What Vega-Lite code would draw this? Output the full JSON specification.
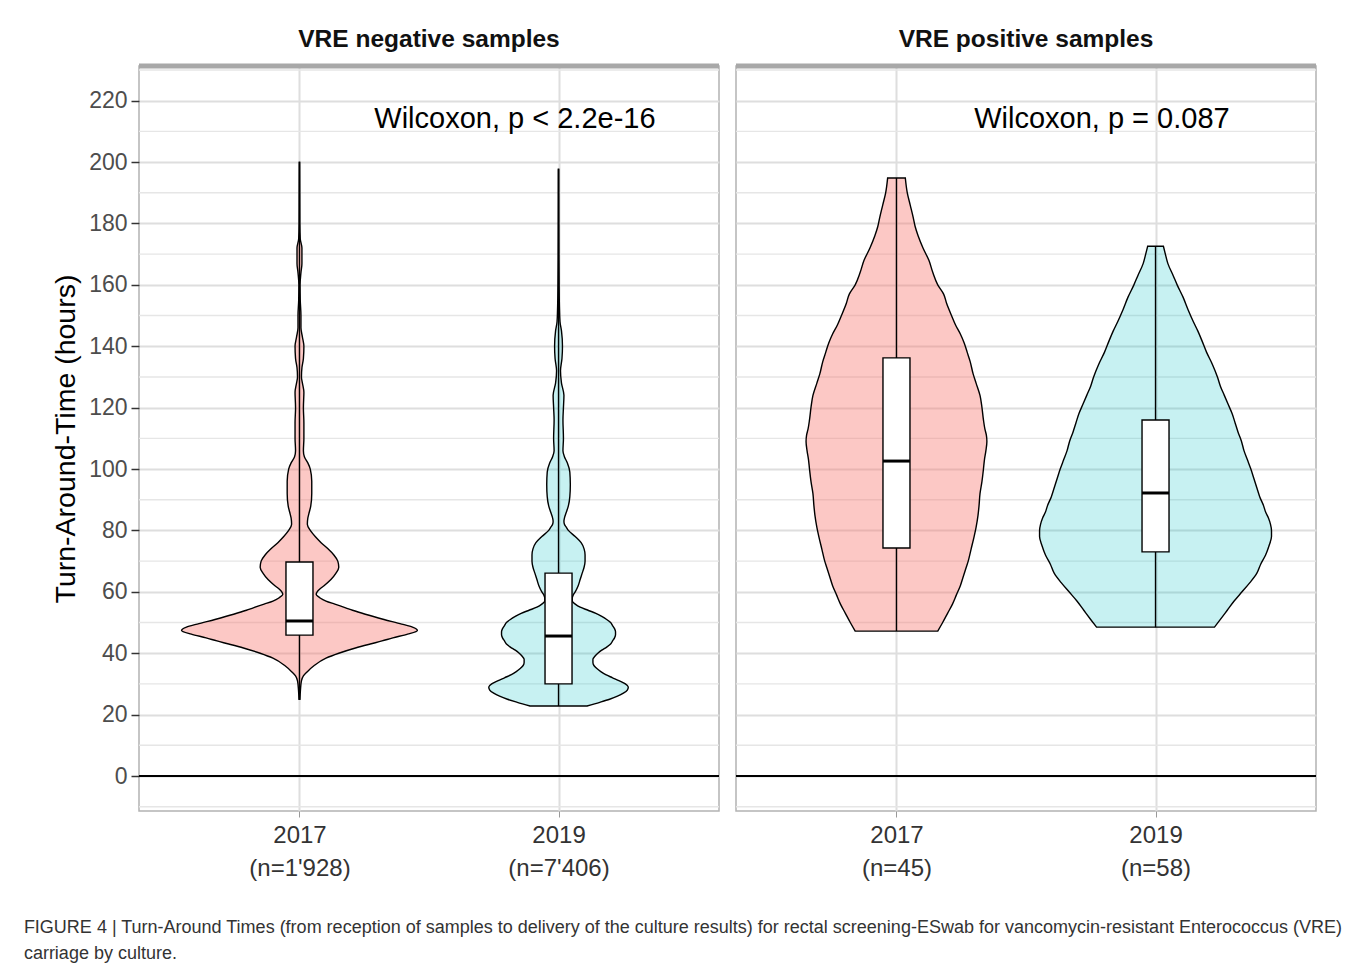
{
  "$schema": "https://vega.github.io/schema/vega-lite/v6.json",
  "padding": {"left": 23, "top": 26, "right": 5, "bottom": 5},
  "background": "#ffffff",
  "title": {
    "text": ["FIGURE 4 | Turn-Around Times (from reception of samples to delivery of the culture results) for rectal screening-ESwab for vancomycin-resistant Enterococcus (VRE)", "carriage by culture."],
    "orient": "bottom", "anchor": "start", "fontSize": 18, "fontWeight": "normal", "color": "#333333",
    "lineHeight": 26, "offset": 38, "dx": -27, "font": "Liberation Sans"
  },
  "datasets": {
    "minor": [{"v":-10},{"v":10},{"v":30},{"v":50},{"v":70},{"v":90},{"v":110},{"v":130},{"v":150},{"v":170},{"v":190},{"v":210},{"v":230}],
    "violin": [
      {"panel":"neg","year":"2017","hours":25,"w":0.005},{"panel":"neg","year":"2017","hours":28,"w":0.01},{"panel":"neg","year":"2017","hours":31,"w":0.02},{"panel":"neg","year":"2017","hours":32.6,"w":0.04},{"panel":"neg","year":"2017","hours":34,"w":0.08},{"panel":"neg","year":"2017","hours":36,"w":0.15},{"panel":"neg","year":"2017","hours":38.4,"w":0.27},{"panel":"neg","year":"2017","hours":40,"w":0.40},{"panel":"neg","year":"2017","hours":41.7,"w":0.57},{"panel":"neg","year":"2017","hours":43,"w":0.72},{"panel":"neg","year":"2017","hours":44,"w":0.84},{"panel":"neg","year":"2017","hours":45,"w":0.95},{"panel":"neg","year":"2017","hours":46.2,"w":1.10},{"panel":"neg","year":"2017","hours":47.4,"w":1.20},{"panel":"neg","year":"2017","hours":48.5,"w":1.15},{"panel":"neg","year":"2017","hours":49.5,"w":1.04},{"panel":"neg","year":"2017","hours":51,"w":0.86},{"panel":"neg","year":"2017","hours":52.7,"w":0.67},{"panel":"neg","year":"2017","hours":54,"w":0.54},{"panel":"neg","year":"2017","hours":54.8,"w":0.47},{"panel":"neg","year":"2017","hours":56,"w":0.36},{"panel":"neg","year":"2017","hours":57,"w":0.27},{"panel":"neg","year":"2017","hours":58,"w":0.21},{"panel":"neg","year":"2017","hours":59.2,"w":0.17},{"panel":"neg","year":"2017","hours":60,"w":0.18},{"panel":"neg","year":"2017","hours":61,"w":0.21},{"panel":"neg","year":"2017","hours":62,"w":0.25},{"panel":"neg","year":"2017","hours":64,"w":0.32},{"panel":"neg","year":"2017","hours":66,"w":0.37},{"panel":"neg","year":"2017","hours":68,"w":0.40},{"panel":"neg","year":"2017","hours":70,"w":0.39},{"panel":"neg","year":"2017","hours":72,"w":0.35},{"panel":"neg","year":"2017","hours":74,"w":0.29},{"panel":"neg","year":"2017","hours":76,"w":0.22},{"panel":"neg","year":"2017","hours":78,"w":0.16},{"panel":"neg","year":"2017","hours":80,"w":0.11},{"panel":"neg","year":"2017","hours":82,"w":0.08},{"panel":"neg","year":"2017","hours":84,"w":0.085},{"panel":"neg","year":"2017","hours":86,"w":0.10},{"panel":"neg","year":"2017","hours":88,"w":0.115},{"panel":"neg","year":"2017","hours":92,"w":0.125},{"panel":"neg","year":"2017","hours":96,"w":0.125},{"panel":"neg","year":"2017","hours":100,"w":0.11},{"panel":"neg","year":"2017","hours":102,"w":0.085},{"panel":"neg","year":"2017","hours":104,"w":0.05},{"panel":"neg","year":"2017","hours":106,"w":0.04},{"panel":"neg","year":"2017","hours":110,"w":0.045},{"panel":"neg","year":"2017","hours":115,"w":0.045},{"panel":"neg","year":"2017","hours":120,"w":0.04},{"panel":"neg","year":"2017","hours":125,"w":0.045},{"panel":"neg","year":"2017","hours":128,"w":0.03},{"panel":"neg","year":"2017","hours":130,"w":0.02},{"panel":"neg","year":"2017","hours":133,"w":0.025},{"panel":"neg","year":"2017","hours":136,"w":0.04},{"panel":"neg","year":"2017","hours":140,"w":0.045},{"panel":"neg","year":"2017","hours":143,"w":0.03},{"panel":"neg","year":"2017","hours":146,"w":0.015},{"panel":"neg","year":"2017","hours":150,"w":0.015},{"panel":"neg","year":"2017","hours":155,"w":0.008},{"panel":"neg","year":"2017","hours":160,"w":0.006},{"panel":"neg","year":"2017","hours":164,"w":0.015},{"panel":"neg","year":"2017","hours":167,"w":0.025},{"panel":"neg","year":"2017","hours":172,"w":0.025},{"panel":"neg","year":"2017","hours":175,"w":0.008},{"panel":"neg","year":"2017","hours":180,"w":0.004},{"panel":"neg","year":"2017","hours":190,"w":0.003},{"panel":"neg","year":"2017","hours":200,"w":0.002},
      {"panel":"neg","year":"2019","hours":22.8,"w":0.29},{"panel":"neg","year":"2019","hours":24,"w":0.42},{"panel":"neg","year":"2019","hours":25,"w":0.52},{"panel":"neg","year":"2019","hours":26,"w":0.60},{"panel":"neg","year":"2019","hours":27,"w":0.66},{"panel":"neg","year":"2019","hours":28,"w":0.70},{"panel":"neg","year":"2019","hours":29,"w":0.71},{"panel":"neg","year":"2019","hours":30,"w":0.68},{"panel":"neg","year":"2019","hours":31,"w":0.62},{"panel":"neg","year":"2019","hours":32,"w":0.55},{"panel":"neg","year":"2019","hours":33,"w":0.48},{"panel":"neg","year":"2019","hours":34,"w":0.43},{"panel":"neg","year":"2019","hours":35,"w":0.39},{"panel":"neg","year":"2019","hours":36,"w":0.36},{"panel":"neg","year":"2019","hours":37,"w":0.35},{"panel":"neg","year":"2019","hours":38,"w":0.35},{"panel":"neg","year":"2019","hours":39,"w":0.37},{"panel":"neg","year":"2019","hours":40,"w":0.40},{"panel":"neg","year":"2019","hours":41,"w":0.44},{"panel":"neg","year":"2019","hours":42,"w":0.49},{"panel":"neg","year":"2019","hours":43,"w":0.53},{"panel":"neg","year":"2019","hours":44,"w":0.55},{"panel":"neg","year":"2019","hours":45,"w":0.57},{"panel":"neg","year":"2019","hours":46,"w":0.58},{"panel":"neg","year":"2019","hours":47,"w":0.58},{"panel":"neg","year":"2019","hours":48,"w":0.57},{"panel":"neg","year":"2019","hours":49,"w":0.55},{"panel":"neg","year":"2019","hours":50,"w":0.53},{"panel":"neg","year":"2019","hours":51,"w":0.49},{"panel":"neg","year":"2019","hours":52,"w":0.44},{"panel":"neg","year":"2019","hours":53,"w":0.38},{"panel":"neg","year":"2019","hours":54,"w":0.30},{"panel":"neg","year":"2019","hours":55,"w":0.22},{"panel":"neg","year":"2019","hours":56,"w":0.17},{"panel":"neg","year":"2019","hours":57,"w":0.14},{"panel":"neg","year":"2019","hours":58,"w":0.14},{"panel":"neg","year":"2019","hours":59,"w":0.15},{"panel":"neg","year":"2019","hours":60,"w":0.17},{"panel":"neg","year":"2019","hours":62,"w":0.20},{"panel":"neg","year":"2019","hours":64,"w":0.22},{"panel":"neg","year":"2019","hours":66,"w":0.24},{"panel":"neg","year":"2019","hours":68,"w":0.26},{"panel":"neg","year":"2019","hours":70,"w":0.27},{"panel":"neg","year":"2019","hours":72,"w":0.27},{"panel":"neg","year":"2019","hours":74,"w":0.26},{"panel":"neg","year":"2019","hours":76,"w":0.23},{"panel":"neg","year":"2019","hours":78,"w":0.17},{"panel":"neg","year":"2019","hours":80,"w":0.10},{"panel":"neg","year":"2019","hours":81,"w":0.08},{"panel":"neg","year":"2019","hours":82,"w":0.06},{"panel":"neg","year":"2019","hours":83,"w":0.055},{"panel":"neg","year":"2019","hours":84,"w":0.06},{"panel":"neg","year":"2019","hours":86,"w":0.08},{"panel":"neg","year":"2019","hours":88,"w":0.10},{"panel":"neg","year":"2019","hours":91,"w":0.115},{"panel":"neg","year":"2019","hours":95,"w":0.12},{"panel":"neg","year":"2019","hours":99,"w":0.115},{"panel":"neg","year":"2019","hours":102,"w":0.09},{"panel":"neg","year":"2019","hours":104,"w":0.06},{"panel":"neg","year":"2019","hours":106,"w":0.045},{"panel":"neg","year":"2019","hours":110,"w":0.05},{"panel":"neg","year":"2019","hours":116,"w":0.045},{"panel":"neg","year":"2019","hours":120,"w":0.05},{"panel":"neg","year":"2019","hours":124,"w":0.055},{"panel":"neg","year":"2019","hours":128,"w":0.03},{"panel":"neg","year":"2019","hours":132,"w":0.02},{"panel":"neg","year":"2019","hours":136,"w":0.035},{"panel":"neg","year":"2019","hours":140,"w":0.04},{"panel":"neg","year":"2019","hours":145,"w":0.03},{"panel":"neg","year":"2019","hours":148,"w":0.015},{"panel":"neg","year":"2019","hours":152,"w":0.01},{"panel":"neg","year":"2019","hours":160,"w":0.006},{"panel":"neg","year":"2019","hours":170,"w":0.004},{"panel":"neg","year":"2019","hours":180,"w":0.003},{"panel":"neg","year":"2019","hours":197.7,"w":0.002},
      {"panel":"pos","year":"2017","hours":47.2,"w":0.42},{"panel":"pos","year":"2017","hours":50,"w":0.47},{"panel":"pos","year":"2017","hours":53,"w":0.52},{"panel":"pos","year":"2017","hours":56,"w":0.57},{"panel":"pos","year":"2017","hours":59,"w":0.61},{"panel":"pos","year":"2017","hours":62,"w":0.65},{"panel":"pos","year":"2017","hours":65,"w":0.68},{"panel":"pos","year":"2017","hours":68,"w":0.71},{"panel":"pos","year":"2017","hours":70,"w":0.73},{"panel":"pos","year":"2017","hours":74,"w":0.76},{"panel":"pos","year":"2017","hours":78,"w":0.79},{"panel":"pos","year":"2017","hours":81,"w":0.81},{"panel":"pos","year":"2017","hours":85,"w":0.83},{"panel":"pos","year":"2017","hours":88,"w":0.84},{"panel":"pos","year":"2017","hours":92,"w":0.85},{"panel":"pos","year":"2017","hours":96,"w":0.87},{"panel":"pos","year":"2017","hours":100,"w":0.885},{"panel":"pos","year":"2017","hours":103,"w":0.895},{"panel":"pos","year":"2017","hours":106,"w":0.91},{"panel":"pos","year":"2017","hours":109,"w":0.92},{"panel":"pos","year":"2017","hours":111,"w":0.915},{"panel":"pos","year":"2017","hours":113,"w":0.90},{"panel":"pos","year":"2017","hours":116,"w":0.885},{"panel":"pos","year":"2017","hours":120,"w":0.87},{"panel":"pos","year":"2017","hours":124,"w":0.85},{"panel":"pos","year":"2017","hours":128,"w":0.81},{"panel":"pos","year":"2017","hours":131,"w":0.78},{"panel":"pos","year":"2017","hours":135,"w":0.75},{"panel":"pos","year":"2017","hours":138,"w":0.72},{"panel":"pos","year":"2017","hours":141,"w":0.69},{"panel":"pos","year":"2017","hours":144,"w":0.65},{"panel":"pos","year":"2017","hours":147,"w":0.60},{"panel":"pos","year":"2017","hours":150,"w":0.56},{"panel":"pos","year":"2017","hours":154,"w":0.51},{"panel":"pos","year":"2017","hours":157,"w":0.48},{"panel":"pos","year":"2017","hours":160,"w":0.42},{"panel":"pos","year":"2017","hours":164,"w":0.37},{"panel":"pos","year":"2017","hours":168,"w":0.33},{"panel":"pos","year":"2017","hours":172,"w":0.27},{"panel":"pos","year":"2017","hours":176,"w":0.22},{"panel":"pos","year":"2017","hours":179,"w":0.19},{"panel":"pos","year":"2017","hours":182,"w":0.17},{"panel":"pos","year":"2017","hours":186,"w":0.14},{"panel":"pos","year":"2017","hours":190,"w":0.11},{"panel":"pos","year":"2017","hours":194.8,"w":0.09},
      {"panel":"pos","year":"2019","hours":48.5,"w":0.60},{"panel":"pos","year":"2019","hours":51,"w":0.66},{"panel":"pos","year":"2019","hours":54,"w":0.73},{"panel":"pos","year":"2019","hours":57,"w":0.80},{"panel":"pos","year":"2019","hours":60,"w":0.88},{"panel":"pos","year":"2019","hours":63,"w":0.96},{"panel":"pos","year":"2019","hours":66,"w":1.03},{"panel":"pos","year":"2019","hours":69,"w":1.07},{"panel":"pos","year":"2019","hours":72,"w":1.12},{"panel":"pos","year":"2019","hours":75,"w":1.155},{"panel":"pos","year":"2019","hours":78,"w":1.18},{"panel":"pos","year":"2019","hours":80,"w":1.18},{"panel":"pos","year":"2019","hours":82,"w":1.17},{"panel":"pos","year":"2019","hours":84,"w":1.15},{"panel":"pos","year":"2019","hours":86,"w":1.12},{"panel":"pos","year":"2019","hours":88,"w":1.10},{"panel":"pos","year":"2019","hours":91,"w":1.06},{"panel":"pos","year":"2019","hours":94,"w":1.03},{"panel":"pos","year":"2019","hours":97,"w":1.00},{"panel":"pos","year":"2019","hours":100,"w":0.97},{"panel":"pos","year":"2019","hours":103,"w":0.935},{"panel":"pos","year":"2019","hours":106,"w":0.90},{"panel":"pos","year":"2019","hours":109,"w":0.875},{"panel":"pos","year":"2019","hours":112,"w":0.84},{"panel":"pos","year":"2019","hours":115,"w":0.81},{"panel":"pos","year":"2019","hours":118,"w":0.78},{"panel":"pos","year":"2019","hours":121,"w":0.74},{"panel":"pos","year":"2019","hours":124,"w":0.70},{"panel":"pos","year":"2019","hours":127,"w":0.66},{"panel":"pos","year":"2019","hours":130,"w":0.63},{"panel":"pos","year":"2019","hours":134,"w":0.58},{"panel":"pos","year":"2019","hours":138,"w":0.52},{"panel":"pos","year":"2019","hours":142,"w":0.47},{"panel":"pos","year":"2019","hours":145,"w":0.43},{"panel":"pos","year":"2019","hours":148,"w":0.385},{"panel":"pos","year":"2019","hours":152,"w":0.33},{"panel":"pos","year":"2019","hours":156,"w":0.28},{"panel":"pos","year":"2019","hours":160,"w":0.22},{"panel":"pos","year":"2019","hours":163,"w":0.18},{"panel":"pos","year":"2019","hours":167,"w":0.125},{"panel":"pos","year":"2019","hours":170,"w":0.10},{"panel":"pos","year":"2019","hours":172.6,"w":0.08}
    ],
    "box": [
      {"panel":"neg","year":"2017","min":25,"q1":45.9,"median":50.5,"q3":69.7,"max":200},
      {"panel":"neg","year":"2019","min":22.8,"q1":30.0,"median":45.6,"q3":66.1,"max":197.7},
      {"panel":"pos","year":"2017","min":47.2,"q1":74.3,"median":102.6,"q3":136.2,"max":194.8},
      {"panel":"pos","year":"2019","min":48.5,"q1":73.0,"median":92.2,"q3":116.0,"max":172.6}
    ],
    "tests": [
      {"panel":"neg","label":"Wilcoxon, p < 2.2e-16"},
      {"panel":"pos","label":"Wilcoxon, p = 0.087"}
    ]
  },
  "hconcat": [
    {
      "width": 580, "height": 745,
      "title": {"text": "VRE negative samples", "fontSize": 24.5, "fontWeight": "bold", "color": "#111111", "anchor": "middle", "offset": 11},
      "layer": [
        {
          "data": {"name": "minor"},
          "mark": {"type": "rule", "color": "#E6E6E6", "strokeWidth": 1.4},
          "encoding": {
            "y": {"field": "v", "type": "quantitative", "scale": {"domain": [-11.4, 231.3], "nice": false, "zero": false},
              "axis": {
                "orient": "left",
                "values": [0,20,40,60,80,100,120,140,160,180,200,220],
                "labelOverlap": false, "labelFlush": false,
                "gridColor": "#DEDEDE", "gridWidth": 2, "grid": true,
                "tickColor": "#333333", "tickSize": 8, "tickWidth": 1.5,
                "labelFontSize": 23, "labelColor": "#4D4D4D", "labelPadding": 4,
                "domain": false,
                "title": "Turn-Around-Time (hours)", "titleFontSize": 28.5, "titleFontWeight": "normal", "titleColor": "#000000", "titlePadding": 8
              }
            }
          }
        },
        {
          "data": {"values": [{}]},
          "mark": {"type": "rule", "color": "#000000", "strokeWidth": 2},
          "encoding": {"y": {"datum": 0, "type": "quantitative", "scale": {"domain": [-11.4, 231.3], "nice": false, "zero": false}}}
        },
        {
          "data": {"values": [{}]},
          "mark": {"type": "rule", "color": "#A8A8A8", "strokeWidth": 5},
          "encoding": {"y": {"datum": 231.3, "type": "quantitative", "scale": {"domain": [-11.4, 231.3], "nice": false, "zero": false}}}
        },
        {
          "layer": [
            {
              "data": {"name": "violin"},
              "transform": [{"filter": "datum.panel === 'neg' && datum.year === '2017'"}],
              "mark": {"type": "area", "orient": "horizontal", "interpolate": "monotone", "fill": "#F8766D", "fillOpacity": 0.4, "stroke": "#000000", "strokeWidth": 1.4},
              "encoding": {
                "y": {"field": "hours", "type": "quantitative", "scale": {"domain": [-11.4, 231.3], "nice": false, "zero": false}},
                "x": {"field": "w", "type": "quantitative", "stack": "center", "scale": {"domain": [-0.191, 2.709], "nice": false, "zero": false},
                  "axis": {"values": [0.6], "orient": "bottom", "domain": false, "grid": true, "gridColor": "#DEDEDE", "gridWidth": 2, "ticks": true, "tickColor": "#999999", "tickSize": 6, "labelExpr": "['2017', \"(n=1'928)\"]", "labelFontSize": 24, "labelLineHeight": 33, "labelColor": "#333333", "labelPadding": 6, "title": null}}
              }
            },
            {
              "data": {"name": "box"},
              "transform": [{"filter": "datum.panel === 'neg' && datum.year === '2017'"}],
              "layer": [
                {"mark": {"type": "rule", "color": "#000000", "strokeWidth": 1.4},
                 "encoding": {"x": {"datum": 0.6, "type": "quantitative"}, "y": {"field": "min", "type": "quantitative", "scale": {"domain": [-11.4, 231.3], "nice": false, "zero": false}}, "y2": {"field": "max"}}},
                {"mark": {"type": "bar", "size": 27, "fill": "#ffffff", "stroke": "#000000", "strokeWidth": 1.4},
                 "encoding": {"x": {"datum": 0.6, "type": "quantitative"}, "y": {"field": "q1", "type": "quantitative", "scale": {"domain": [-11.4, 231.3], "nice": false, "zero": false}}, "y2": {"field": "q3"}}},
                {"mark": {"type": "tick", "orient": "horizontal", "size": 27, "thickness": 3, "color": "#000000", "opacity": 1},
                 "encoding": {"x": {"datum": 0.6, "type": "quantitative"}, "y": {"field": "median", "type": "quantitative", "scale": {"domain": [-11.4, 231.3], "nice": false, "zero": false}}}}
              ]
            }
          ]
        },
        {
          "layer": [
            {
              "data": {"name": "violin"},
              "transform": [{"filter": "datum.panel === 'neg' && datum.year === '2019'"}],
              "mark": {"type": "area", "orient": "horizontal", "interpolate": "monotone", "fill": "#00BFC4", "fillOpacity": 0.22, "stroke": "#000000", "strokeWidth": 1.4},
              "encoding": {
                "y": {"field": "hours", "type": "quantitative", "scale": {"domain": [-11.4, 231.3], "nice": false, "zero": false}},
                "x": {"field": "w", "type": "quantitative", "stack": "center", "scale": {"domain": [-1.754, 1.146], "nice": false, "zero": false},
                  "axis": {"values": [0.355], "orient": "bottom", "domain": false, "grid": true, "gridColor": "#DEDEDE", "gridWidth": 2, "ticks": true, "tickColor": "#999999", "tickSize": 6, "labelExpr": "['2019', \"(n=7'406)\"]", "labelFontSize": 24, "labelLineHeight": 33, "labelColor": "#333333", "labelPadding": 6, "title": null}}
              }
            },
            {
              "data": {"name": "box"},
              "transform": [{"filter": "datum.panel === 'neg' && datum.year === '2019'"}],
              "layer": [
                {"mark": {"type": "rule", "color": "#000000", "strokeWidth": 1.4},
                 "encoding": {"x": {"datum": 0.355, "type": "quantitative"}, "y": {"field": "min", "type": "quantitative", "scale": {"domain": [-11.4, 231.3], "nice": false, "zero": false}}, "y2": {"field": "max"}}},
                {"mark": {"type": "bar", "size": 27, "fill": "#ffffff", "stroke": "#000000", "strokeWidth": 1.4},
                 "encoding": {"x": {"datum": 0.355, "type": "quantitative"}, "y": {"field": "q1", "type": "quantitative", "scale": {"domain": [-11.4, 231.3], "nice": false, "zero": false}}, "y2": {"field": "q3"}}},
                {"mark": {"type": "tick", "orient": "horizontal", "size": 27, "thickness": 3, "color": "#000000", "opacity": 1},
                 "encoding": {"x": {"datum": 0.355, "type": "quantitative"}, "y": {"field": "median", "type": "quantitative", "scale": {"domain": [-11.4, 231.3], "nice": false, "zero": false}}}}
              ]
            }
          ]
        },
        {
          "data": {"name": "tests"},
          "transform": [{"filter": "datum.panel === 'neg'"}],
          "mark": {"type": "text", "fontSize": 29, "color": "#000000", "align": "center", "baseline": "middle"},
          "encoding": {
            "text": {"field": "label"},
            "x": {"datum": 1.826, "type": "quantitative", "scale": {"domain": [0.4, 2.6], "nice": false, "zero": false}, "axis": null},
            "y": {"datum": 214, "type": "quantitative", "scale": {"domain": [-11.4, 231.3], "nice": false, "zero": false}}
          }
        }
      ],
      "resolve": {"scale": {"x": "independent"}, "axis": {"x": "independent"}}
    },
    {
      "width": 580, "height": 745,
      "title": {"text": "VRE positive samples", "fontSize": 24.5, "fontWeight": "bold", "color": "#111111", "anchor": "middle", "offset": 11},
      "layer": [
        {
          "data": {"name": "minor"},
          "mark": {"type": "rule", "color": "#E6E6E6", "strokeWidth": 1.4},
          "encoding": {
            "y": {"field": "v", "type": "quantitative", "scale": {"domain": [-11.4, 231.3], "nice": false, "zero": false},
              "axis": {
                "orient": "left",
                "values": [0,20,40,60,80,100,120,140,160,180,200,220],
                "labels": false, "ticks": false, "domain": false, "title": null,
                "gridColor": "#DEDEDE", "gridWidth": 2, "grid": true
              }
            }
          }
        },
        {
          "data": {"values": [{}]},
          "mark": {"type": "rule", "color": "#000000", "strokeWidth": 2},
          "encoding": {"y": {"datum": 0, "type": "quantitative", "scale": {"domain": [-11.4, 231.3], "nice": false, "zero": false}}}
        },
        {
          "data": {"values": [{}]},
          "mark": {"type": "rule", "color": "#A8A8A8", "strokeWidth": 5},
          "encoding": {"y": {"datum": 231.3, "type": "quantitative", "scale": {"domain": [-11.4, 231.3], "nice": false, "zero": false}}}
        },
        {
          "layer": [
            {
              "data": {"name": "violin"},
              "transform": [{"filter": "datum.panel === 'pos' && datum.year === '2017'"}],
              "mark": {"type": "area", "orient": "horizontal", "interpolate": "monotone", "fill": "#F8766D", "fillOpacity": 0.4, "stroke": "#000000", "strokeWidth": 1.4},
              "encoding": {
                "y": {"field": "hours", "type": "quantitative", "scale": {"domain": [-11.4, 231.3], "nice": false, "zero": false}},
                "x": {"field": "w", "type": "quantitative", "stack": "center", "scale": {"domain": [-0.331, 2.569], "nice": false, "zero": false},
                  "axis": {"values": [0.46], "orient": "bottom", "domain": false, "grid": true, "gridColor": "#DEDEDE", "gridWidth": 2, "ticks": true, "tickColor": "#999999", "tickSize": 6, "labelExpr": "['2017', '(n=45)']", "labelFontSize": 24, "labelLineHeight": 33, "labelColor": "#333333", "labelPadding": 6, "title": null}}
              }
            },
            {
              "data": {"name": "box"},
              "transform": [{"filter": "datum.panel === 'pos' && datum.year === '2017'"}],
              "layer": [
                {"mark": {"type": "rule", "color": "#000000", "strokeWidth": 1.4},
                 "encoding": {"x": {"datum": 0.46, "type": "quantitative"}, "y": {"field": "min", "type": "quantitative", "scale": {"domain": [-11.4, 231.3], "nice": false, "zero": false}}, "y2": {"field": "max"}}},
                {"mark": {"type": "bar", "size": 27, "fill": "#ffffff", "stroke": "#000000", "strokeWidth": 1.4},
                 "encoding": {"x": {"datum": 0.46, "type": "quantitative"}, "y": {"field": "q1", "type": "quantitative", "scale": {"domain": [-11.4, 231.3], "nice": false, "zero": false}}, "y2": {"field": "q3"}}},
                {"mark": {"type": "tick", "orient": "horizontal", "size": 27, "thickness": 3, "color": "#000000", "opacity": 1},
                 "encoding": {"x": {"datum": 0.46, "type": "quantitative"}, "y": {"field": "median", "type": "quantitative", "scale": {"domain": [-11.4, 231.3], "nice": false, "zero": false}}}}
              ]
            }
          ]
        },
        {
          "layer": [
            {
              "data": {"name": "violin"},
              "transform": [{"filter": "datum.panel === 'pos' && datum.year === '2019'"}],
              "mark": {"type": "area", "orient": "horizontal", "interpolate": "monotone", "fill": "#00BFC4", "fillOpacity": 0.22, "stroke": "#000000", "strokeWidth": 1.4},
              "encoding": {
                "y": {"field": "hours", "type": "quantitative", "scale": {"domain": [-11.4, 231.3], "nice": false, "zero": false}},
                "x": {"field": "w", "type": "quantitative", "stack": "center", "scale": {"domain": [-1.519, 1.381], "nice": false, "zero": false},
                  "axis": {"values": [0.59], "orient": "bottom", "domain": false, "grid": true, "gridColor": "#DEDEDE", "gridWidth": 2, "ticks": true, "tickColor": "#999999", "tickSize": 6, "labelExpr": "['2019', '(n=58)']", "labelFontSize": 24, "labelLineHeight": 33, "labelColor": "#333333", "labelPadding": 6, "title": null}}
              }
            },
            {
              "data": {"name": "box"},
              "transform": [{"filter": "datum.panel === 'pos' && datum.year === '2019'"}],
              "layer": [
                {"mark": {"type": "rule", "color": "#000000", "strokeWidth": 1.4},
                 "encoding": {"x": {"datum": 0.59, "type": "quantitative"}, "y": {"field": "min", "type": "quantitative", "scale": {"domain": [-11.4, 231.3], "nice": false, "zero": false}}, "y2": {"field": "max"}}},
                {"mark": {"type": "bar", "size": 27, "fill": "#ffffff", "stroke": "#000000", "strokeWidth": 1.4},
                 "encoding": {"x": {"datum": 0.59, "type": "quantitative"}, "y": {"field": "q1", "type": "quantitative", "scale": {"domain": [-11.4, 231.3], "nice": false, "zero": false}}, "y2": {"field": "q3"}}},
                {"mark": {"type": "tick", "orient": "horizontal", "size": 27, "thickness": 3, "color": "#000000", "opacity": 1},
                 "encoding": {"x": {"datum": 0.59, "type": "quantitative"}, "y": {"field": "median", "type": "quantitative", "scale": {"domain": [-11.4, 231.3], "nice": false, "zero": false}}}}
              ]
            }
          ]
        },
        {
          "data": {"name": "tests"},
          "transform": [{"filter": "datum.panel === 'pos'"}],
          "mark": {"type": "text", "fontSize": 29, "color": "#000000", "align": "center", "baseline": "middle"},
          "encoding": {
            "text": {"field": "label"},
            "x": {"datum": 1.788, "type": "quantitative", "scale": {"domain": [0.4, 2.6], "nice": false, "zero": false}, "axis": null},
            "y": {"datum": 214, "type": "quantitative", "scale": {"domain": [-11.4, 231.3], "nice": false, "zero": false}}
          }
        }
      ],
      "resolve": {"scale": {"x": "independent"}, "axis": {"x": "independent"}}
    }
  ],
  "spacing": 9,
  "config": {
    "font": "Liberation Sans",
    "view": {"stroke": "#B3B3B3", "strokeWidth": 1.5},
    "axis": {"labelFont": "Liberation Sans", "titleFont": "Liberation Sans"},
    "title": {"font": "Liberation Sans"}
  }
}
